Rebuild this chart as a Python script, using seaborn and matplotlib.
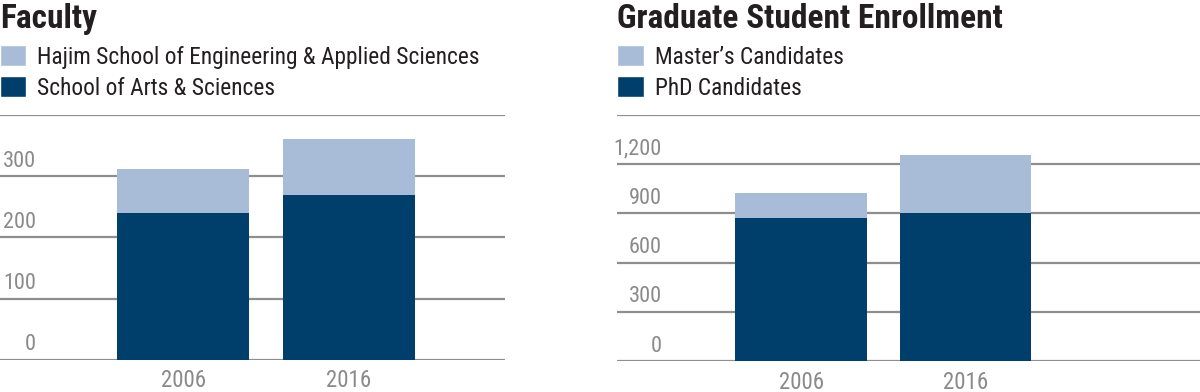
import numpy as np
import pandas as pd
import matplotlib
matplotlib.use("Agg")
import matplotlib.pyplot as plt
import seaborn as sns
from matplotlib.patches import Patch
from matplotlib import font_manager

years = ["2006", "2016"]

# Faculty
arts_sciences = [240, 270]
hajim = [72, 90]
faculty_ticks = [0, 100, 200, 300]
faculty_tick_labels = ["0", "100", "200", "300"]

# Graduate enrollment
phd = [875, 905]
masters = [150, 350]
grad_ticks = [0, 300, 600, 900, 1200]
grad_tick_labels = ["0", "300", "600", "900", "1,200"]

DARK = "#003E6B"
LIGHT = "#A8BCD8"
GRID = "#8E8E8E"
TICK = "#8A8A8A"
TEXT = "#231F20"

sns.set_theme(style="white")
names = {f.name for f in font_manager.fontManager.ttflist}
fam = "DejaVu Sans"
for cand in ["Roboto Condensed", "Archivo Narrow", "Asap Condensed", "Barlow Semi Condensed"]:
    if cand in names:
        fam = cand
        break
plt.rcParams["font.family"] = [fam, "DejaVu Sans"]

fig = plt.figure(figsize=(12, 3.92), dpi=100)

def panel(rect, bottom_vals, top_vals, ticks, tick_labels, ylim, xlim, label_x,
          title, title_x, leg_labels):
    ax = fig.add_axes(rect)
    df = pd.DataFrame({"year": years, "bottom": bottom_vals,
                       "total": np.array(bottom_vals) + np.array(top_vals)})
    # stacked: total first in light blue, lower segment over it in navy
    sns.barplot(data=df, x="year", y="total", color=LIGHT, width=0.8,
                saturation=1, linewidth=0, ax=ax, zorder=3)
    sns.barplot(data=df, x="year", y="bottom", color=DARK, width=0.8,
                saturation=1, linewidth=0, ax=ax, zorder=3)
    ax.set_ylim(*ylim)
    ax.set_xlim(*xlim)
    for t in list(ticks) + [ylim[1]]:
        ax.axhline(t, color=GRID, lw=1.6, zorder=1)
    for t, lab in zip(ticks, tick_labels):
        ax.text(label_x, t + (ylim[1] - ylim[0]) * 0.018, lab,
                transform=ax.get_yaxis_transform(), ha="right", va="bottom",
                fontsize=16, color=TICK)
    ax.set_yticks([])
    ax.set_xlabel("")
    ax.set_ylabel("")
    ax.tick_params(axis="x", length=0, pad=7, labelsize=16.5, labelcolor=TICK)
    for s in ax.spines.values():
        s.set_visible(False)

    fig.text(title_x, 0.992, title, fontsize=24, fontweight=800,
             color=TEXT, ha="left", va="top")
    handles = [Patch(facecolor=LIGHT, label=leg_labels[0]),
               Patch(facecolor=DARK, label=leg_labels[1])]
    fig.legend(handles=handles, loc="upper left",
               bbox_to_anchor=(title_x, 0.884), frameon=False,
               borderpad=0, borderaxespad=0, fontsize=16.8,
               handlelength=1.12, handleheight=1.0, handletextpad=0.48,
               labelspacing=0.32, labelcolor=TEXT)
    return ax

panel([0.0, 0.0824, 0.421, 0.6242], arts_sciences, hajim, faculty_ticks,
      faculty_tick_labels, (0, 400), (-1.11, 1.948), 0.071, "Faculty", 0.0,
      ["Hajim School of Engineering & Applied Sciences", "School of Arts & Sciences"])

panel([0.514, 0.079, 0.486, 0.6276], phd, masters, grad_ticks,
      grad_tick_labels, (0, 1500), (-1.123, 2.43), 0.077,
      "Graduate Student Enrollment", 0.5145,
      ["Master\u2019s Candidates", "PhD Candidates"])

fig.savefig("out.png", dpi=100)
